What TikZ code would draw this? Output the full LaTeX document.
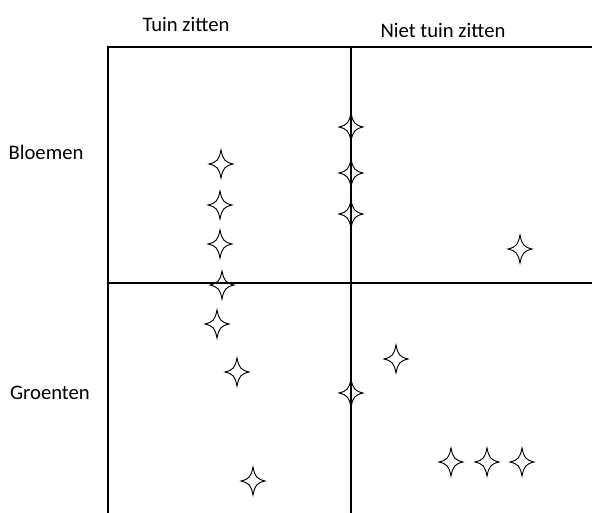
\documentclass[tikz,border=0pt]{standalone}
\usepackage{fontspec}
\setmainfont{Carlito}
\begin{document}
\begin{tikzpicture}[x=0.75pt,y=-0.75pt,
  frame/.style={line width=1.5pt,black},
  lbl/.style={font=\fontsize{15.5}{18}\selectfont,inner sep=0pt},
  sparkle/.pic={\draw[line width=0.7pt]
     (0,-14) .. controls (2,-4) and (4,-2) .. (12,0)
     .. controls (4,2) and (2,4) .. (0,14)
     .. controls (-2,4) and (-4,2) .. (-12,0)
     .. controls (-4,-2) and (-2,-4) .. cycle;}]
\useasboundingbox (0,0) rectangle (592,513);
% frame coordinates
\coordinate (tl) at (108,47);
\coordinate (tr) at (592,47);
\coordinate (bl) at (108,513);
\coordinate (mt) at (351,47);
\coordinate (mb) at (351,513);
\coordinate (hl) at (108,283);
\coordinate (hr) at (592,283);
\draw[frame] (bl) -- (tl) -- (tr);
\draw[frame] (mt) -- (mb);
\draw[frame] (hl) -- (hr);
% labels
\node[lbl] (t1) at (186,24) {Tuin zitten};
\node[lbl] (t2) at (443,30) {Niet tuin zitten};
\node[lbl] (r1) at (46,152) {Bloemen};
\node[lbl] (r2) at (50,393) {Groenten};
% stars
\foreach \n/\x/\y in {s1/351/127, s2/221/164, s3/351/173, s4/220/205, s5/351/214,
  s6/220/244, s7/520/249, s8/222/285, s9/217/324, s10/396/359, s11/237/372,
  s12/351/393, s13/451/462, s14/487/462, s15/522/462, s16/253/481}
  {\coordinate (\n) at (\x,\y); \pic at (\n) {sparkle};}
\end{tikzpicture}
\end{document}
